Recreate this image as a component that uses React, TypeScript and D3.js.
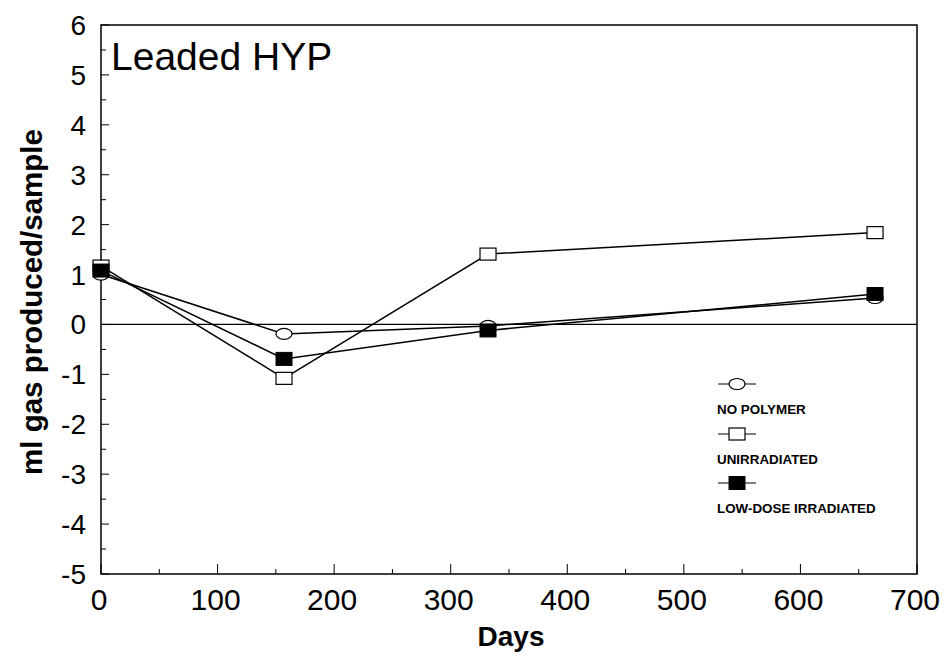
import React from "react";
import * as d3 from "d3";

const days = [0, 157, 332, 664];
const noPolymer = [1.0, -0.19, -0.03, 0.53];
const unirradiated = [1.17, -1.08, 1.41, 1.84];
const lowDose = [1.08, -0.69, -0.12, 0.61];
const seriesNames = ["NO POLYMER", "UNIRRADIATED", "LOW-DOSE IRRADIATED"];
const seriesMarkers = ["ellipse", "open", "filled"];
const xTicks = [0, 100, 200, 300, 400, 500, 600, 700];
const yTicks = [-5, -4, -3, -2, -1, 0, 1, 2, 3, 4, 5, 6];
const title = "Leaded HYP";
const xLabel = "Days";
const yLabel = "ml gas produced/sample";

const W = 946;
const H = 657;
const FONT = "'Liberation Sans', Arial, Helvetica, sans-serif";

export default function App() {
  const x = d3.scaleLinear().domain([0, 700]).range([101, 917]);
  const y = d3.scaleLinear().domain([-5, 6]).range([574, 25]);
  const series = [noPolymer, unirradiated, lowDose];
  const line = d3
    .line<number>()
    .x((_, i) => x(days[i]))
    .y((v) => y(v));

  const marker = (kind: string, cx: number, cy: number, key: string) => {
    if (kind === "ellipse")
      return <ellipse key={key} cx={cx} cy={cy} rx={8} ry={5.5} fill="#fff" stroke="#000" strokeWidth={1.2} />;
    if (kind === "open")
      return <rect key={key} x={cx - 8} y={cy - 6} width={16} height={12} fill="#fff" stroke="#000" strokeWidth={1.2} />;
    return <rect key={key} x={cx - 8} y={cy - 6.5} width={16} height={13} fill="#000" stroke="#000" strokeWidth={1} />;
  };

  const xMinor = d3.range(0, 701, 50);
  const yMinor = d3.range(-5, 6.01, 0.5);
  const legendY = [384, 434, 483];

  return (
    <svg width={W} height={H} style={{ position: "absolute", left: 0, top: 0, background: "#fff" }} fontFamily={FONT}>
      <rect x={0} y={0} width={W} height={H} fill="#fff" />
      {/* zero line */}
      <line x1={x(0)} x2={x(700)} y1={y(0)} y2={y(0)} stroke="#000" strokeWidth={1.2} />
      {/* frame */}
      <rect x={x(0)} y={y(6)} width={x(700) - x(0)} height={y(-5) - y(6)} fill="none" stroke="#000" strokeWidth={1.5} />
      {/* x ticks */}
      {xMinor.map((t) => (
        <line key={"xt" + t} x1={x(t)} x2={x(t)} y1={y(-5)} y2={y(-5) - (t % 100 === 0 ? 10 : 5)} stroke="#000" strokeWidth={1} />
      ))}
      {/* y ticks */}
      {yMinor.map((t) => (
        <line key={"yt" + t} x1={x(0)} x2={x(0) + (Math.abs(t % 1) < 1e-6 ? 8 : 5)} y1={y(t)} y2={y(t)} stroke="#000" strokeWidth={1} />
      ))}
      {/* x tick labels */}
      {xTicks.map((t) => (
        <text key={"xl" + t} x={x(t) - 2} y={610} fontSize={30} textAnchor="middle">
          {t}
        </text>
      ))}
      {/* y tick labels */}
      {yTicks.map((t) => (
        <text key={"yl" + t} x={86} y={y(t) + 10} fontSize={28} textAnchor="end">
          {t}
        </text>
      ))}
      {/* lines */}
      {series.map((s, i) => (
        <path key={"ln" + i} d={line(s) || ""} fill="none" stroke="#000" strokeWidth={1.5} />
      ))}
      {/* markers */}
      {series.map((s, i) => s.map((v, j) => marker(seriesMarkers[i], x(days[j]), y(v), `m${i}-${j}`)))}
      {/* title */}
      <text x={111} y={70} fontSize={39}>
        {title}
      </text>
      {/* axis labels */}
      <text x={511} y={646} fontSize={28} fontWeight="bold" textAnchor="middle">
        {xLabel}
      </text>
      <text transform={`translate(42,302) rotate(-90)`} fontSize={29.5} fontWeight="bold" textAnchor="middle">
        {yLabel}
      </text>
      {/* legend */}
      {seriesNames.map((name, i) => (
        <g key={"lg" + i}>
          <line x1={718} x2={756} y1={legendY[i]} y2={legendY[i]} stroke="#000" strokeWidth={1} />
          {marker(seriesMarkers[i], 737, legendY[i], "lm" + i)}
          <text x={717} y={legendY[i] + 30} fontSize={13.4} fontWeight="bold">
            {name}
          </text>
        </g>
      ))}
    </svg>
  );
}
